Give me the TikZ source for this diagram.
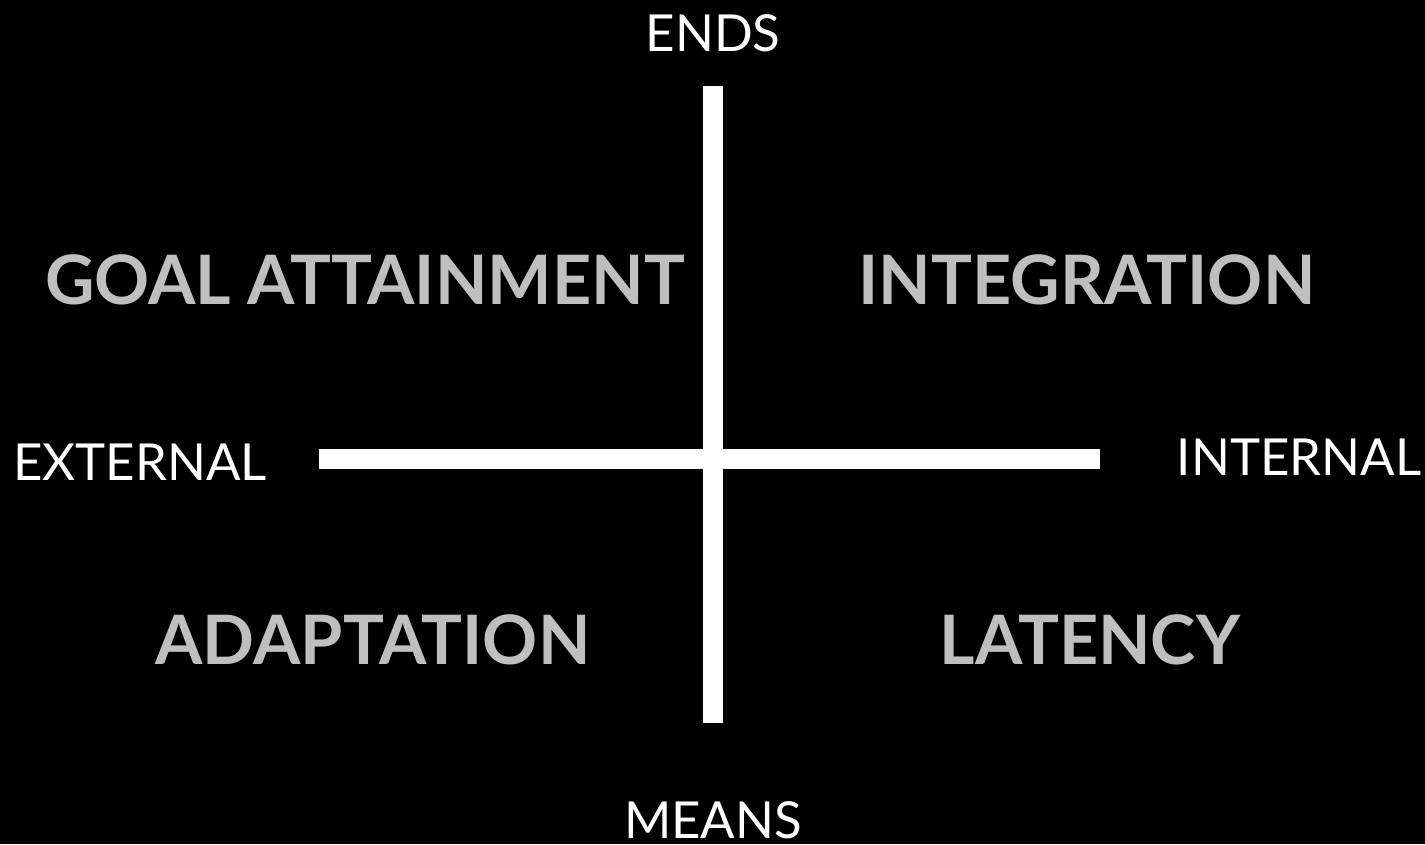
\documentclass[tikz,border=0pt]{standalone}
\usepackage{fontspec}
\setmainfont{Lato}
\usetikzlibrary{positioning}

\begin{document}
\begin{tikzpicture}[x=0.01cm, y=-0.01cm,
    axislabel/.style={text=white, font=\fontsize{14.5}{16}\selectfont, inner sep=0pt},
    quadrant/.style={text=gray!50!white, font=\fontsize{19.4}{22}\selectfont\bfseries, inner sep=0pt},
    axis/.style={draw=white, line width=0.2cm}
]
\fill[black] (0,0) rectangle (1425,844);

\coordinate (top) at (713,86);
\coordinate (bottom) at (713,723);
\coordinate (left) at (319,459);
\coordinate (right) at (1100,459);

\node[axislabel] (ends) at (713,33) {ENDS};
\node[axislabel] (means) at (713,820) {MEANS};
\node[axislabel] (external) at (140,462) {EXTERNAL};
\node[axislabel] (internal) at (1299,457) {INTERNAL};

\node[quadrant] (goal) at (365,280) {GOAL ATTAINMENT};
\node[quadrant] (integ) at (1087,280) {INTEGRATION};
\node[quadrant] (adapt) at (373,640) {ADAPTATION};
\node[quadrant] (latency) at (1090,640) {LATENCY};

\draw[axis] (top) -- (bottom);
\draw[axis] (left) -- (right);
\end{tikzpicture}
\end{document}
